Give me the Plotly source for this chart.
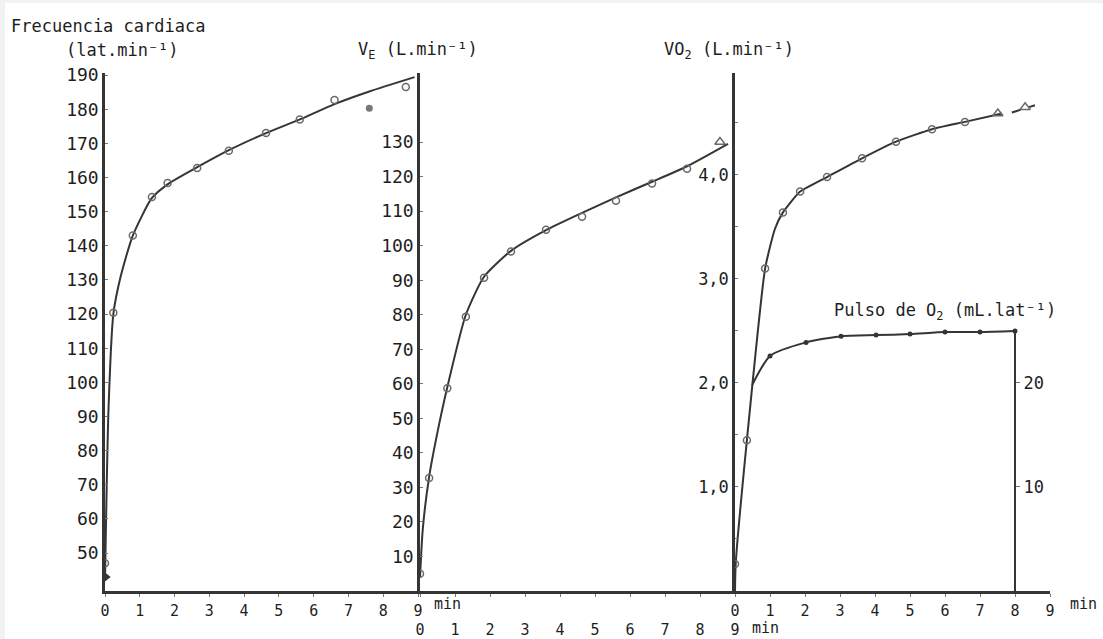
import plotly.graph_objects as go

W, H = 1103, 639

# ---------------- data ----------------
minutes = [0, 1, 2, 3, 4, 5, 6, 7, 8, 9]

# Frecuencia cardiaca (lat/min)
hr_curve_t = [0, 0.1, 0.24, 0.45, 0.8, 1.35, 1.8, 2.65, 3.56, 4.63, 5.6, 6.6, 7.6, 8.9]
hr_curve = [42, 92, 120, 131, 143, 154, 158, 163, 168, 173, 177, 181.5, 185.2, 189.4]
hr_pts_t = [0, 0.24, 0.8, 1.35, 1.8, 2.65, 3.56, 4.63, 5.6, 6.6, 8.65]
hr_pts = [47, 120.4, 143, 154.3, 158.4, 162.8, 167.8, 173, 177, 182.7, 186.5]
hr_out_t = [7.6]
hr_out = [180.3]
hr_start_t = [0.05]
hr_start = [43]
hr_ticks = [50, 60, 70, 80, 90, 100, 110, 120, 130, 140, 150, 160, 170, 180, 190]

# Ventilacion VE (L/min)
ve_curve_t = [0, 0.08, 0.26, 0.5, 0.78, 1.31, 1.83, 2.6, 3.6, 4.63, 5.6, 6.63, 7.63, 8.8]
ve_curve = [4, 18, 33, 46, 59, 80, 91, 98.5, 104.5, 109.5, 114, 118.5, 123, 129.5]
ve_pts_t = [0, 0.26, 0.78, 1.31, 1.83, 2.6, 3.6, 4.63, 5.6, 6.63, 7.63]
ve_pts = [5, 32.7, 58.7, 79.4, 90.7, 98.3, 104.6, 108.4, 113, 118, 122.3]
ve_end_t = [8.57]
ve_end = [130]
ve_ticks = [10, 20, 30, 40, 50, 60, 70, 80, 90, 100, 110, 120, 130]

# VO2 (L/min)
vo2_curve_t = [0, 0.02, 0.34, 0.86, 1.14, 1.37, 1.86, 2.63, 3.63, 4.6, 5.63, 6.57, 7.63]
vo2_curve = [0, 0.26, 1.45, 3.1, 3.48, 3.64, 3.84, 3.98, 4.16, 4.32, 4.44, 4.51, 4.59]
vo2_pts_t = [0, 0.34, 0.86, 1.37, 1.86, 2.63, 3.63, 4.6, 5.63, 6.57]
vo2_pts = [0.26, 1.45, 3.1, 3.64, 3.84, 3.98, 4.16, 4.32, 4.44, 4.51]
vo2_tri_t = [7.51, 8.29]
vo2_tri = [4.59, 4.65]
vo2_dash_t = [7.91, 8.57]
vo2_dash = [4.6, 4.67]
vo2_ticks = [1.0, 2.0, 3.0, 4.0]
vo2_ticktext = ["1,0", "2,0", "3,0", "4,0"]
vo2_minor = [0.5, 1.5, 2.5, 3.5, 4.5]

# Pulso de O2 (mL/lat)
pulse_t = [0.49, 1.0, 2.03, 3.03, 4.03, 5.0, 6.0, 7.0, 8.0]
pulse = [19.8, 22.6, 23.9, 24.5, 24.6, 24.7, 24.9, 24.9, 25.0]
pulse_ticks = [10, 20]

# ---------------- layout helpers ----------------
def px(x):
    return x / W

def py(y):
    return 1 - y / H

LINE = "#353535"
MARK = "#6a6a6a"
TXT = "#1e1e1e"
TICKFONT = dict(family="DejaVu Sans Mono", size=18, color=TXT)
SMALLTICK = dict(family="DejaVu Sans Mono", size=17, color=TXT)
XTICK = dict(family="DejaVu Sans Mono", size=15, color=TXT)
LABFONT = dict(family="DejaVu Sans Mono", size=17, color=TXT)

ydom = [py(591), py(73)]

fig = go.Figure()

# HR panel
fig.add_trace(go.Scatter(x=hr_curve_t, y=hr_curve, mode="lines",
                         line=dict(color=LINE, width=2, shape="spline", smoothing=0.6),
                         xaxis="x", yaxis="y"))
fig.add_trace(go.Scatter(x=hr_pts_t, y=hr_pts, mode="markers",
                         marker=dict(symbol="circle-open", size=7, color=MARK, line=dict(width=1.5)),
                         xaxis="x", yaxis="y"))
fig.add_trace(go.Scatter(x=hr_out_t, y=hr_out, mode="markers",
                         marker=dict(symbol="circle", size=7, color="#777777"),
                         xaxis="x", yaxis="y"))
fig.add_trace(go.Scatter(x=hr_start_t, y=hr_start, mode="markers",
                         marker=dict(symbol="triangle-right", size=8, color=LINE),
                         xaxis="x", yaxis="y"))

# VE panel
fig.add_trace(go.Scatter(x=ve_curve_t, y=ve_curve, mode="lines",
                         line=dict(color=LINE, width=2, shape="spline", smoothing=0.6),
                         xaxis="x2", yaxis="y2"))
fig.add_trace(go.Scatter(x=ve_pts_t, y=ve_pts, mode="markers",
                         marker=dict(symbol="circle-open", size=7, color=MARK, line=dict(width=1.5)),
                         xaxis="x2", yaxis="y2"))
fig.add_trace(go.Scatter(x=ve_end_t, y=ve_end, mode="markers",
                         marker=dict(symbol="triangle-up-open", size=9, color=MARK, line=dict(width=1.5)),
                         xaxis="x2", yaxis="y2"))

# VO2 panel
fig.add_trace(go.Scatter(x=vo2_curve_t, y=vo2_curve, mode="lines",
                         line=dict(color=LINE, width=2, shape="spline", smoothing=0.5),
                         xaxis="x3", yaxis="y3"))
fig.add_trace(go.Scatter(x=vo2_dash_t, y=vo2_dash, mode="lines",
                         line=dict(color=LINE, width=2, dash="dash"),
                         xaxis="x3", yaxis="y3"))
fig.add_trace(go.Scatter(x=vo2_pts_t, y=vo2_pts, mode="markers",
                         marker=dict(symbol="circle-open", size=7, color=MARK, line=dict(width=1.5)),
                         xaxis="x3", yaxis="y3"))
fig.add_trace(go.Scatter(x=vo2_tri_t, y=vo2_tri, mode="markers",
                         marker=dict(symbol="triangle-up-open", size=9, color=MARK, line=dict(width=1.5)),
                         xaxis="x3", yaxis="y3"))

# O2 pulse (right axis)
fig.add_trace(go.Scatter(x=pulse_t, y=pulse, mode="lines",
                         line=dict(color=LINE, width=2, shape="spline", smoothing=0.6),
                         xaxis="x3", yaxis="y4"))
fig.add_trace(go.Scatter(x=[pulse_t[-1], pulse_t[-1]], y=[pulse[-1], 0], mode="lines",
                         line=dict(color=LINE, width=2),
                         xaxis="x3", yaxis="y4"))
fig.add_trace(go.Scatter(x=pulse_t[1:], y=pulse[1:], mode="markers",
                         marker=dict(symbol="circle", size=5, color=LINE),
                         xaxis="x3", yaxis="y4"))

common_x = dict(range=[0, 9], tickvals=minutes, ticktext=[str(m) for m in minutes],
                showline=True, linecolor=LINE, linewidth=2.5, ticks="outside", ticklen=3,
                tickcolor="#777777", showgrid=False, zeroline=False, tickfont=XTICK,
                automargin=False, fixedrange=True)
common_y = dict(showline=True, linecolor=LINE, linewidth=2.5, ticks="inside", ticklen=3,
                tickcolor="#777777", showgrid=False, zeroline=False,
                automargin=False, domain=ydom, fixedrange=True)

fig.update_layout(
    width=W, height=H,
    margin=dict(l=0, r=0, t=0, b=0),
    paper_bgcolor="white", plot_bgcolor="rgba(0,0,0,0)",
    showlegend=False,
    xaxis=dict(domain=[px(105), px(418)], anchor="y", ticklabelstandoff=1, **common_x),
    xaxis2=dict(domain=[px(420), px(735)], anchor="y2", ticklabelstandoff=20, **common_x),
    xaxis3=dict(domain=[px(735), px(1050)], anchor="y3", ticklabelstandoff=1, **common_x),
    yaxis=dict(anchor="x", range=[38.9, 190.6], tickvals=hr_ticks,
               ticktext=[str(v) for v in hr_ticks], tickfont=TICKFONT, **common_y),
    yaxis2=dict(anchor="x2", range=[0, 150], tickvals=ve_ticks,
                ticktext=[str(v) for v in ve_ticks], tickfont=TICKFONT, **common_y),
    yaxis3=dict(anchor="x3", range=[0, 4.98], tickvals=vo2_ticks, ticktext=vo2_ticktext,
                tickfont=SMALLTICK,
                minor=dict(tickvals=vo2_minor, ticks="inside", ticklen=3, tickcolor="#777777"),
                **common_y),
    yaxis4=dict(overlaying="y3", anchor="free", position=px(1015), side="right",
                range=[0, 49.8], tickvals=pulse_ticks, ticktext=[str(v) for v in pulse_ticks],
                showline=False, ticks="outside", ticklen=4, tickcolor="#777777",
                showgrid=False, zeroline=False,
                tickfont=SMALLTICK, automargin=False, fixedrange=True),
    shapes=[
        dict(type="rect", xref="paper", yref="paper", x0=0, x1=px(5), y0=0, y1=1,
             fillcolor="#f2f2f2", line=dict(width=0), layer="below"),
        dict(type="rect", xref="paper", yref="paper", x0=0, x1=1, y0=py(3), y1=1,
             fillcolor="#f2f2f2", line=dict(width=0), layer="below"),
    ],
)

def ann(text, x, y, xanchor="left", font=LABFONT):
    fig.add_annotation(text=text, x=px(x), y=py(y), xref="paper", yref="paper",
                       xanchor=xanchor, yanchor="middle", showarrow=False, font=font)

ann("Frecuencia cardiaca", 9, 26)
ann("(lat.min⁻¹)", 64, 50)
ann("V<sub>E</sub> (L.min⁻¹)", 356, 50)
ann("VO<sub>2</sub> (L.min⁻¹)", 662, 50)
ann("Pulso de O<sub>2</sub> (mL.lat⁻¹)", 832, 312)
ann("min", 432, 604, font=XTICK)
ann("min", 750, 628, font=XTICK)
ann("min", 1068, 604, font=XTICK)

fig.write_html(
    "out.html",
    config={"displayModeBar": False},
    post_script="document.body.style.margin='0px';document.body.style.overflow='hidden';",
)
